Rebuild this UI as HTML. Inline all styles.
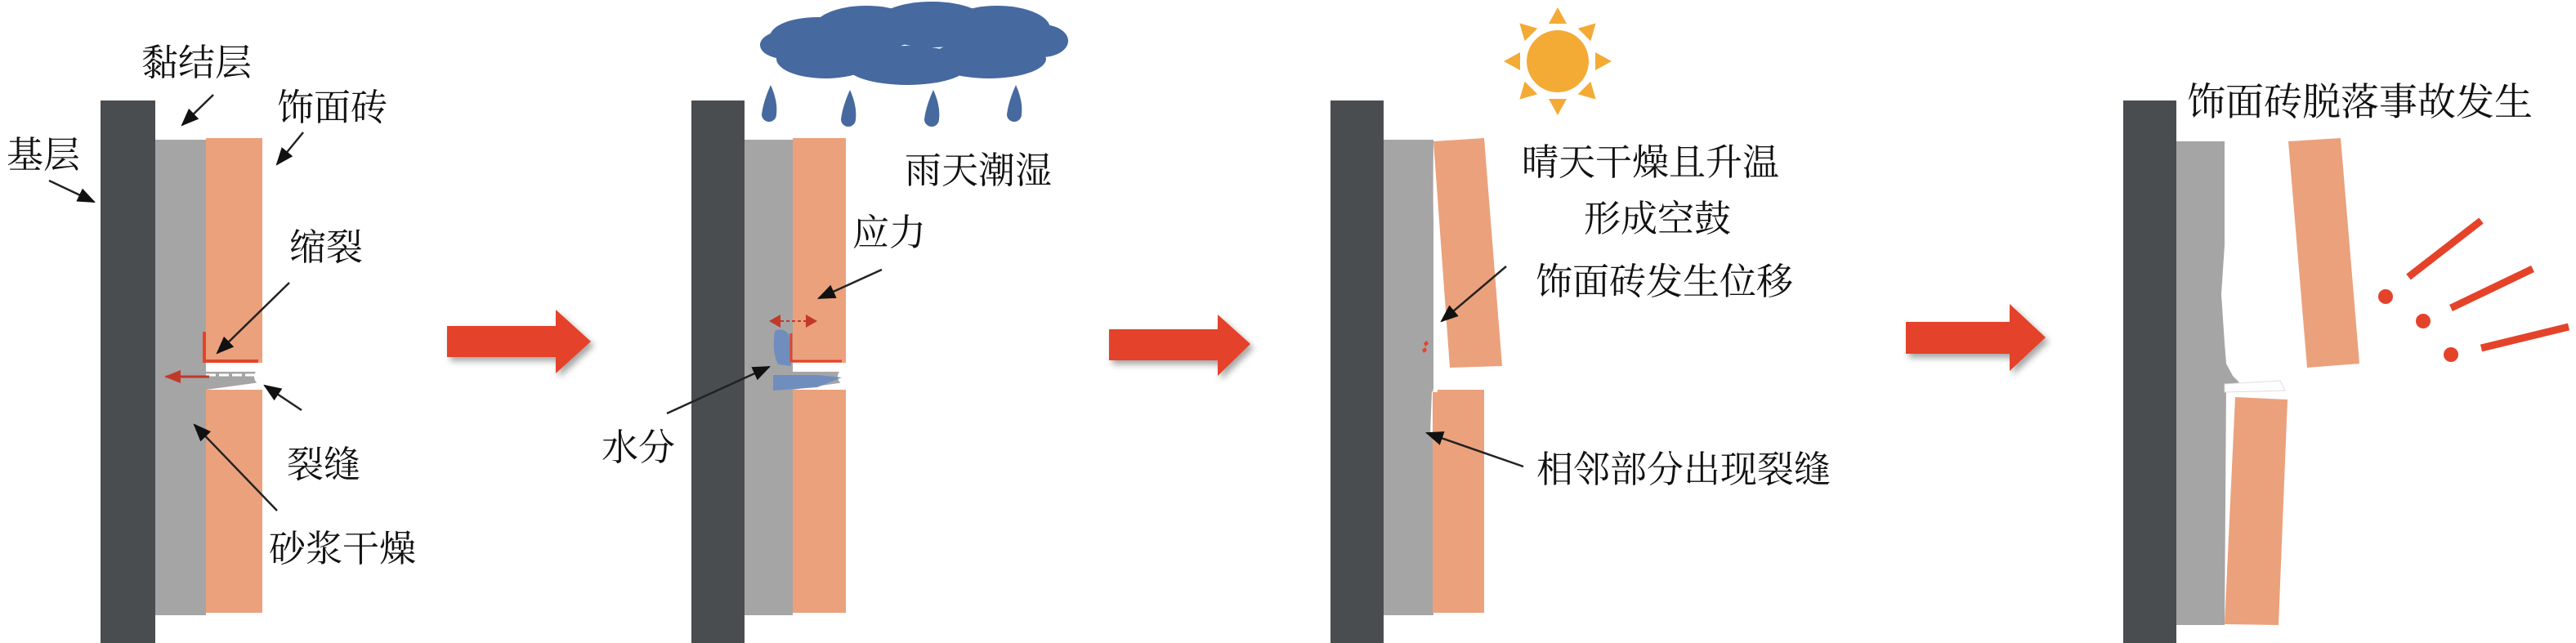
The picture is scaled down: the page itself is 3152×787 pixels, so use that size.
<!DOCTYPE html>
<html><head><meta charset="utf-8"><style>
html,body{margin:0;padding:0;background:#fff;}
svg{display:block;}
text{font-family:"Liberation Serif","Noto Serif CJK SC","Noto Sans CJK SC",serif;font-size:45px;fill:#111;}
</style></head><body>
<svg width="3152" height="787" viewBox="0 0 3152 787" xmlns="http://www.w3.org/2000/svg">
<defs>
<marker id="ah" markerWidth="10" markerHeight="10" refX="8" refY="5" orient="auto" markerUnits="userSpaceOnUse" viewBox="0 0 10 10">
<path d="M0,0 L10,5 L0,10 z" fill="#111"/></marker>
<marker id="ahb" viewBox="0 0 10 10" refX="9" refY="5" markerWidth="22" markerHeight="22" orient="auto" markerUnits="userSpaceOnUse"><path d="M0,1 L10,5 L0,9 z" fill="#111"/></marker>
<marker id="ahr" viewBox="0 0 10 10" refX="9" refY="5" markerWidth="20" markerHeight="20" orient="auto" markerUnits="userSpaceOnUse"><path d="M0,1 L10,5 L0,9 z" fill="#c0392b"/></marker>
<filter id="sh" x="-10%" y="-10%" width="130%" height="140%"><feDropShadow dx="4" dy="5" stdDeviation="4" flood-color="#000" flood-opacity="0.35"/></filter>
</defs>

<!-- ===== Panel 1 ===== -->
<rect x="123" y="123" width="67" height="664" fill="#4a4d50"/>
<rect x="190" y="171" width="62" height="582" fill="#a5a5a5"/>
<rect x="252" y="169" width="69" height="275" fill="#eba17c"/>
<rect x="252" y="477" width="69" height="273" fill="#eba17c"/>
<path d="M190,444 L252,444 L252,455 L318,455 L318,468 L252,477 L190,477 z" fill="#a5a5a5"/>
<path d="M252,459 L316,459" stroke="#fff" stroke-width="3" stroke-dasharray="12,4"/>
<circle cx="321" cy="461" r="10" fill="#fff"/>
<path d="M250,406 L250,442 L316,442" stroke="#e4432a" stroke-width="4" fill="none"/>
<line x1="256" y1="461" x2="203" y2="461" stroke="#c0392b" stroke-width="3" marker-end="url(#ahr)"/>
<text x="8" y="205">基层</text>
<text x="173" y="92">黏结层</text>
<text x="339" y="147">饰面砖</text>
<text x="354" y="318">缩裂</text>
<text x="351" y="584">裂缝</text>
<text x="329" y="687">砂浆干燥</text>
<g stroke="#222" stroke-width="2.5" fill="none">
<line x1="261" y1="116" x2="223" y2="153" marker-end="url(#ahb)"/>
<line x1="371" y1="162" x2="339" y2="201" marker-end="url(#ahb)"/>
<line x1="60" y1="221" x2="115" y2="247" marker-end="url(#ahb)"/>
<line x1="354" y1="346" x2="266" y2="432" marker-end="url(#ahb)"/>
<line x1="369" y1="502" x2="324" y2="472" marker-end="url(#ahb)"/>
<line x1="339" y1="625" x2="238" y2="520" marker-end="url(#ahb)"/>
</g>
<path d="M547,399 L680,399 L680,379 L723,418 L680,457 L680,437 L547,437 z" fill="#e4432a" filter="url(#sh)"/>

<!-- ===== Panel 2 ===== -->
<g fill="#46699f">
<ellipse cx="1000" cy="45" rx="58" ry="24"/>
<ellipse cx="1060" cy="35" rx="65" ry="28"/>
<ellipse cx="1140" cy="30" rx="70" ry="28"/>
<ellipse cx="1220" cy="35" rx="65" ry="28"/>
<ellipse cx="1275" cy="50" rx="32" ry="20"/>
<ellipse cx="960" cy="55" rx="30" ry="17"/>
<ellipse cx="1010" cy="72" rx="60" ry="24"/>
<ellipse cx="1110" cy="80" rx="75" ry="24"/>
<ellipse cx="1210" cy="72" rx="70" ry="24"/>
<path d="M943,104 Q952,124 950,140 A9,9 0 1 1 932,140 Q934,124 943,104 z"/>
<path d="M1040,110 Q1049,130 1047,146 A9,9 0 1 1 1029,146 Q1031,130 1040,110 z"/>
<path d="M1142,110 Q1151,130 1149,146 A9,9 0 1 1 1131,146 Q1133,130 1142,110 z"/>
<path d="M1243,104 Q1252,124 1250,140 A9,9 0 1 1 1232,140 Q1234,124 1243,104 z"/>
</g>
<rect x="846" y="123" width="65" height="664" fill="#4a4d50"/>
<rect x="911" y="171" width="59" height="582" fill="#a5a5a5"/>
<rect x="970" y="169" width="65" height="275" fill="#eba17c"/>
<rect x="970" y="477" width="65" height="273" fill="#eba17c"/>
<path d="M911,444 L970,444 L970,455 L1033,455 L1033,468 L970,477 L911,477 z" fill="#a5a5a5"/>
<circle cx="1035" cy="461" r="10" fill="#fff"/>
<path d="M946,459 L1000,459 L1030,462 L1000,474 L946,478 z" fill="#6a8cc0" opacity="0.9"/>
<path d="M948,405 Q958,400 966,410 L968,448 L952,446 Q944,430 948,405 z" fill="#6a8cc0" opacity="0.9"/>
<path d="M968,408 L968,442 L1030,442" stroke="#e4432a" stroke-width="3" fill="none"/>
<path d="M941,393 L955,385 L955,401 z M1000,393 L986,385 L986,401 z" fill="#c0392b"/>
<line x1="955" y1="393" x2="986" y2="393" stroke="#c0392b" stroke-width="2" stroke-dasharray="4,3"/>
<text x="1107" y="224">雨天潮湿</text>
<text x="1043" y="300">应力</text>
<text x="736" y="563">水分</text>
<g stroke="#222" stroke-width="2.5" fill="none">
<line x1="1079" y1="330" x2="1002" y2="365" marker-end="url(#ahb)"/>
<line x1="816" y1="506" x2="941" y2="449" marker-end="url(#ahb)"/>
</g>
<path d="M1357,403 L1490,403 L1490,385 L1530,421 L1490,460 L1490,441 L1357,441 z" fill="#e4432a" filter="url(#sh)"/>

<!-- ===== Panel 3 ===== -->
<g fill="#f3ab35">
<circle cx="1906" cy="75" r="38"/>
<g transform="translate(1906,75)">
<path d="M-11,-46 L0,-66 L11,-46 z"/>
<path d="M-11,-46 L0,-66 L11,-46 z" transform="rotate(45)"/>
<path d="M-11,-46 L0,-66 L11,-46 z" transform="rotate(90)"/>
<path d="M-11,-46 L0,-66 L11,-46 z" transform="rotate(135)"/>
<path d="M-11,-46 L0,-66 L11,-46 z" transform="rotate(180)"/>
<path d="M-11,-46 L0,-66 L11,-46 z" transform="rotate(225)"/>
<path d="M-11,-46 L0,-66 L11,-46 z" transform="rotate(270)"/>
<path d="M-11,-46 L0,-66 L11,-46 z" transform="rotate(315)"/>
</g></g>
<rect x="1628" y="123" width="65" height="664" fill="#4a4d50"/>
<rect x="1693" y="171" width="61" height="582" fill="#a5a5a5"/>
<path d="M1754,175 Q1752,300 1760,400 Q1765,440 1790,455 Q1810,462 1810,468 L1780,468 Q1760,470 1756,490 L1754,530 L1750,530 L1752,480 Q1760,462 1775,458 Q1756,445 1754,420 z" fill="#fff"/>
<rect x="1753" y="477" width="63" height="273" fill="#eba17c"/>
<path d="M1754,173 L1816,169 L1838,448 L1774,450 z" fill="#eba17c"/>
<path d="M1756,480 Q1757,462 1778,462 L1810,464" stroke="#fff" stroke-width="5" fill="none"/>
<path d="M1742,420 l4,-3 l2,4 l-4,3 z M1740,428 l4,-3 l2,4 l-4,3 z" fill="#e4432a"/>
<text x="1862" y="214">晴天干燥且升温</text>
<text x="1938" y="283">形成空鼓</text>
<text x="1879" y="360">饰面砖发生位移</text>
<text x="1880" y="590">相邻部分出现裂缝</text>
<g stroke="#222" stroke-width="2.5" fill="none">
<line x1="1843" y1="326" x2="1764" y2="393" marker-end="url(#ahb)"/>
<line x1="1864" y1="571" x2="1746" y2="530" marker-end="url(#ahb)"/>
</g>

<!-- ===== Panel 4 ===== -->
<path d="M2332,394 L2459,394 L2459,372 L2503,413 L2459,454 L2459,433 L2332,433 z" fill="#e4432a" filter="url(#sh)"/>
<rect x="2598" y="123" width="65" height="664" fill="#4a4d50"/>
<path d="M2663,173 L2722,173 L2722,300 L2718,360 L2722,420 L2724,445 L2732,460 L2740,468 L2724,472 L2722,765 L2663,765 z" fill="#a5a5a5"/>
<path d="M2722,470 L2790,466 L2796,478 L2722,480 z" fill="#fff" stroke="#ddd" stroke-width="1"/>
<path d="M2800,173 L2864,169 L2887,445 L2823,450 z" fill="#eba17c"/>
<path d="M2735,486 L2799,489 L2788,765 L2722,764 z" fill="#eba17c"/>
<g stroke="#e4432a" stroke-width="9" stroke-linecap="butt">
<line x1="2947" y1="339" x2="3036" y2="270"/>
<line x1="2999" y1="377" x2="3099" y2="329"/>
<line x1="3036" y1="426" x2="3143" y2="400"/>
</g>
<g fill="#e4432a">
<circle cx="2919" cy="363" r="9"/>
<circle cx="2965" cy="393" r="9"/>
<circle cx="2999" cy="434" r="9"/>
</g>
<text x="2676" y="141" style="font-size:47px">饰面砖脱落事故发生</text>
</svg>
</body></html>
